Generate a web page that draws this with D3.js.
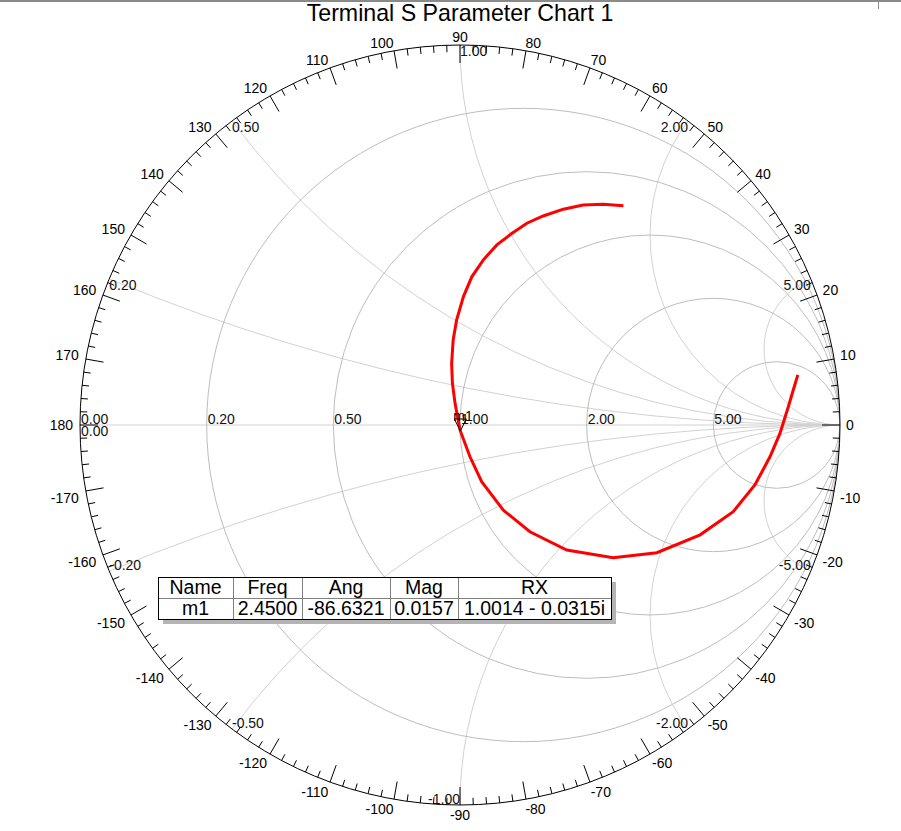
<!DOCTYPE html>
<html>
<head>
<meta charset="utf-8">
<script src="https://cdn.jsdelivr.net/npm/d3@7"></script>
<style>
  body { margin: 0; background: #fff; }
  svg { display: block; font-family: "Liberation Sans", Arial, sans-serif; }
</style>
</head>
<body>
<svg id="chart" width="901" height="831"></svg>
<script>
// chart data
const title = "Terminal S Parameter Chart 1";
const rGrid = [0.2, 0.5, 1, 2, 5];
const xGrid = [0.2, 0.5, 1, 2, 5, -0.2, -0.5, -1, -2, -5];

// reflection coefficient of the trace
const traceRe = [0.430, 0.377, 0.324, 0.272, 0.219, 0.176, 0.136, 0.097, 0.061, 0.031,
  0.009, -0.009, -0.018, -0.022, -0.020, -0.013, 0.000, 0.026, 0.057, 0.114,
  0.184, 0.281, 0.403, 0.518, 0.632, 0.719, 0.776, 0.816, 0.842, 0.864, 0.877, 0.889];
const traceIm = [0.577, 0.581, 0.579, 0.568, 0.550, 0.531, 0.504, 0.474, 0.434, 0.390,
  0.338, 0.276, 0.224, 0.162, 0.110, 0.057, -0.013, -0.083, -0.149, -0.224,
  -0.281, -0.329, -0.349, -0.336, -0.289, -0.228, -0.158, -0.083, -0.022, 0.048, 0.092, 0.132];

// marker table
const tableHeaders = ["Name", "Freq", "Ang", "Mag", "RX"];
const markerNames = ["m1"];
const markerFreq = ["2.4500"];
const markerAng = [-86.6321];
const markerMag = [0.0157];
const markerRX = ["1.0014 - 0.0315i"];

const svg = d3.select("#chart");
const width = 901, height = 831;
const cx = 460, cy = 425, R = 380;

const sx = d3.scaleLinear().domain([-1, 1]).range([cx - R, cx + R]);
const sy = d3.scaleLinear().domain([-1, 1]).range([cy + R, cy - R]);
const k = R; // pixels per unit of gamma

// frame bits at the top
svg.append("rect").attr("x", 0).attr("y", 0).attr("width", width).attr("height", 2).attr("fill", "#8a8a8a");
svg.append("line").attr("x1", 878.5).attr("x2", 878.5).attr("y1", 0).attr("y2", 9).attr("stroke", "#8a8a8a");

svg.append("text")
  .attr("x", cx).attr("y", 21)
  .attr("text-anchor", "middle")
  .attr("font-size", 23.2)
  .text(title);

svg.append("clipPath").attr("id", "unit")
  .append("circle").attr("cx", cx).attr("cy", cy).attr("r", R);

const grid = svg.append("g").attr("clip-path", "url(#unit)").attr("fill", "none");

// constant reactance arcs
grid.selectAll(".xarc").data(xGrid).enter()
  .append("circle")
  .attr("class", "xarc")
  .attr("cx", sx(1))
  .attr("cy", d => sy(1 / d))
  .attr("r", d => k / Math.abs(d))
  .attr("stroke", "#d2d2d2");

// real axis
grid.append("line")
  .attr("x1", sx(-1)).attr("x2", sx(1))
  .attr("y1", sy(0)).attr("y2", sy(0))
  .attr("stroke", "#d2d2d2");

// constant resistance circles
grid.selectAll(".rcirc").data(rGrid).enter()
  .append("circle")
  .attr("class", "rcirc")
  .attr("cx", d => sx(d / (1 + d)))
  .attr("cy", sy(0))
  .attr("r", d => k / (1 + d))
  .attr("stroke", "#bdbdbd");

// outer ring and ticks
svg.append("circle")
  .attr("cx", cx).attr("cy", cy).attr("r", R)
  .attr("fill", "none").attr("stroke", "#000");

const tickAngles = d3.range(0, 360, 2);
svg.append("g").selectAll("line").data(tickAngles).enter()
  .append("line")
  .attr("x1", d => cx + R * Math.cos(d * Math.PI / 180))
  .attr("y1", d => cy - R * Math.sin(d * Math.PI / 180))
  .attr("x2", d => cx + (R - (d % 10 === 0 ? 18 : 7)) * Math.cos(d * Math.PI / 180))
  .attr("y2", d => cy - (R - (d % 10 === 0 ? 18 : 7)) * Math.sin(d * Math.PI / 180))
  .attr("stroke", "#000");

// angle labels
const angleLabels = d3.range(-170, 181, 10);
svg.append("g").selectAll("text").data(angleLabels).enter()
  .append("text")
  .attr("font-size", 14)
  .attr("dy", "0.35em")
  .each(function(d) {
    const a = d * Math.PI / 180, c = Math.cos(a), s = Math.sin(a);
    const anchor = c > 0.05 ? "start" : (c < -0.05 ? "end" : "middle");
    let dy = 0;
    if (s > 0.01) dy = -(3.5 + 4.5 * s);
    else if (s < -0.01) dy = 6 + 4 * Math.abs(s);
    d3.select(this)
      .attr("text-anchor", anchor)
      .attr("x", cx + (R + 8) * c + (anchor === "start" ? -2 : (anchor === "end" ? 1 : 0)))
      .attr("y", cy - R * s + dy)
      .text(String(d));
  });

const fmt = v => v.toFixed(2);
const labels = svg.append("g").attr("font-size", 14).attr("fill", "#111");

// resistance labels sit on the real axis
labels.selectAll(".rlab").data([0].concat(rGrid)).enter()
  .append("text")
  .attr("class", "rlab")
  .attr("x", d => sx((d - 1) / (d + 1)) + 1)
  .attr("y", sy(0) - 1)
  .text(d => fmt(d));
labels.append("text")
  .attr("x", sx(-1) + 1).attr("y", sy(0) + 11)
  .text(fmt(0));

// reactance labels on the ring
labels.selectAll(".xlab").data(xGrid).enter()
  .append("text")
  .attr("class", "xlab")
  .each(function(d) {
    const th = Math.PI - 2 * Math.atan(d);
    const c = Math.cos(th), s = Math.sin(th);
    const upper = d > 0;
    const anchor = upper ? (c <= 1e-9 ? "start" : "end") : (c < -1e-9 ? "start" : "end");
    d3.select(this)
      .attr("x", sx(c))
      .attr("y", upper ? sy(s) + 11 : sy(s) - 1)
      .attr("text-anchor", anchor)
      .text(fmt(d));
  });

// trace
const tracePts = traceRe.map((re, i) => [re, traceIm[i]]);
svg.append("path")
  .datum(tracePts)
  .attr("fill", "none")
  .attr("stroke", "#ff0000")
  .attr("stroke-width", 3)
  .attr("d", d3.line().x(d => sx(d[0])).y(d => sy(d[1])));

// marker
markerNames.forEach((name, i) => {
  const a = markerAng[i] * Math.PI / 180;
  const px = sx(markerMag[i] * Math.cos(a)), py = sy(markerMag[i] * Math.sin(a));
  svg.append("path")
    .attr("d", `M${px},${py}L${px - 6},${py - 12}L${px + 6},${py - 12}Z`)
    .attr("fill", "none").attr("stroke", "#000");
  svg.append("text")
    .attr("x", px - 7).attr("y", py - 10)
    .attr("font-size", 14)
    .text(name);
});

// marker table
const colW = [75, 69, 88, 68, 153];
const rowH = 21;
const tx = 158, ty = 577;
const tw = d3.sum(colW), th = rowH * (markerNames.length + 1);
const colX = colW.map((w, i) => tx + d3.sum(colW.slice(0, i)));
const rows = [tableHeaders].concat(markerNames.map((n, i) => [
  n, markerFreq[i], markerAng[i].toFixed(4), markerMag[i].toFixed(4), markerRX[i]
]));

const table = svg.append("g");
table.append("rect").attr("x", tx + 5).attr("y", ty + 5).attr("width", tw).attr("height", th).attr("fill", "#b4b4b4");
table.append("rect").attr("x", tx).attr("y", ty).attr("width", tw).attr("height", th).attr("fill", "#fff");
rows.forEach((row, r) => {
  if (r > 0) {
    table.append("line").attr("x1", tx).attr("x2", tx + tw)
      .attr("y1", ty + r * rowH + 0.5).attr("y2", ty + r * rowH + 0.5).attr("stroke", "#808080");
  }
  row.forEach((v, c) => {
    table.append("text")
      .attr("x", colX[c] + colW[c] / 2)
      .attr("y", ty + r * rowH + 17)
      .attr("text-anchor", "middle")
      .attr("font-size", 19.5)
      .text(v);
  });
});
colX.slice(1).forEach(x => {
  table.append("line").attr("x1", x + 0.5).attr("x2", x + 0.5)
    .attr("y1", ty).attr("y2", ty + th).attr("stroke", "#808080");
});
table.append("rect").attr("x", tx + 0.5).attr("y", ty + 0.5).attr("width", tw).attr("height", th)
  .attr("fill", "none").attr("stroke", "#000");
</script>
</body>
</html>
